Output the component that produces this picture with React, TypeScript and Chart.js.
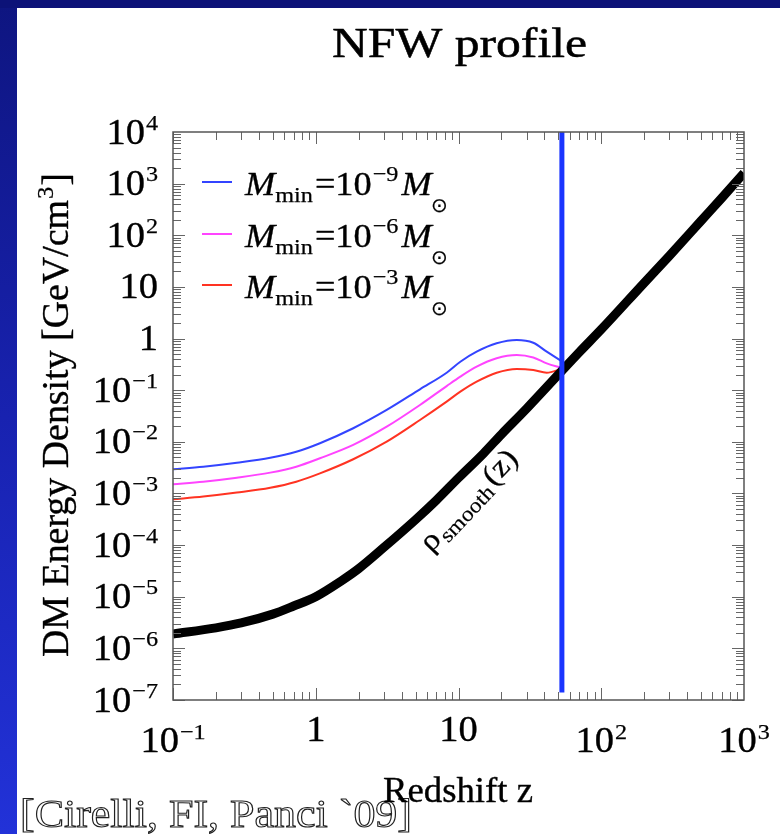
import React, { useEffect, useRef } from 'react';
import { Chart, registerables } from 'chart.js';

Chart.register(...registerables);

const W = 780;
const H = 834;
const SERIF = "'Times New Roman', 'Liberation Serif', Tinos, 'Nimbus Roman', Times, serif";
const SX = 1.1;

// ---- data ----
const redshiftSamples = [0.1, 0.163, 0.28, 0.48, 0.73, 1.07, 1.83, 3.14, 5.37, 8.26, 10.3, 13.4, 18.5, 25.6, 33.4, 41.5, 53];
const densityMmin9 = [2.94e-3, 3.3e-3, 3.94e-3, 4.9e-3, 6.4e-3, 9.4e-3, 1.83e-2, 4.14e-2, 0.104, 0.218, 0.356, 0.557, 0.81, 0.94, 0.83, 0.557, 0.36];
const densityMmin6 = [1.51e-3, 1.69e-3, 2.02e-3, 2.53e-3, 3.3e-3, 4.8e-3, 8.7e-3, 1.96e-2, 5.16e-2, 0.12, 0.183, 0.285, 0.415, 0.48, 0.43, 0.33, 0.27];
const densityMmin3 = [7.7e-4, 8.7e-4, 1.04e-3, 1.29e-3, 1.69e-3, 2.45e-3, 4.6e-3, 1.01e-2, 2.65e-2, 6.0e-2, 9.35e-2, 0.146, 0.218, 0.258, 0.246, 0.218, 0.26];

const smoothRedshift = [0.1, 0.2, 0.3, 0.5, 0.7, 1, 1.5, 2, 3, 5, 7, 10, 15, 20, 30, 50, 70, 100, 200, 300, 500, 700, 1000];
const smoothDensity = [1.9e-6, 2.5e-6, 3.1e-6, 4.6e-6, 6.6e-6, 1.0e-5, 2.0e-5, 3.5e-5, 9.0e-5, 3.1e-4, 7.4e-4, 2.0e-3, 6.0e-3, 1.4e-2, 4.4e-2, 0.2, 0.54, 1.5, 12, 40, 190, 530, 1600];

const markerRedshift = 53;
const markerRange = [1e4, 1.4e-7];

const seriesColors = ['#3344ff', '#ff44ff', '#ff3322'];
const seriesExponents = ['−9', '−6', '−3'];

const xTickValues = [0.1, 1, 10, 100, 1000];
const xTickBases = ['10', '1', '10', '10', '10'];
const xTickExps = ['−1', '', '', '2', '3'];

const yTickValues = [1e4, 1e3, 1e2, 10, 1, 1e-1, 1e-2, 1e-3, 1e-4, 1e-5, 1e-6, 1e-7];
const yTickBases = ['10', '10', '10', '10', '1', '10', '10', '10', '10', '10', '10', '10'];
const yTickExps = ['4', '3', '2', '', '', '−1', '−2', '−3', '−4', '−5', '−6', '−7'];

const titleText = 'NFW profile';
const xTitle = 'Redshift z';
const yTitleMain = 'DM Energy Density [GeV/cm';
const citation = '[Cirelli, FI, Panci `09]';

function pts(xs: number[], ys: number[]) {
  return xs.map((x, i) => ({ x, y: ys[i] }));
}

function font(size: number, italic = false) {
  return `${italic ? 'italic ' : ''}${size}px ${SERIF}`;
}

function measure(ctx: CanvasRenderingContext2D, s: string, size: number, italic = false, sx = SX) {
  ctx.font = font(size, italic);
  return ctx.measureText(s).width * sx;
}

function txt(
  ctx: CanvasRenderingContext2D,
  s: string,
  x: number,
  y: number,
  size: number,
  opts: { italic?: boolean; align?: 'left' | 'right' | 'center'; sx?: number; color?: string; stroke?: boolean; heavy?: number } = {}
) {
  const sx = opts.sx ?? SX;
  const w = measure(ctx, s, size, opts.italic, sx);
  let x0 = x;
  if (opts.align === 'right') x0 = x - w;
  else if (opts.align === 'center') x0 = x - w / 2;
  ctx.save();
  ctx.font = font(size, opts.italic);
  ctx.textBaseline = 'alphabetic';
  ctx.textAlign = 'left';
  ctx.translate(x0, y);
  ctx.scale(sx, 1);
  if (opts.stroke) {
    ctx.strokeStyle = '#222';
    ctx.lineWidth = 1.1;
    ctx.strokeText(s, 0, 0);
  } else {
    const col = opts.color ?? '#000';
    ctx.fillStyle = col;
    ctx.fillText(s, 0, 0);
    const hv = opts.heavy ?? 0.35;
    if (hv > 0) {
      ctx.strokeStyle = col;
      ctx.lineWidth = hv;
      ctx.lineJoin = 'round';
      ctx.strokeText(s, 0, 0);
    }
  }
  ctx.restore();
  return w;
}

const BASE = 35;
const SUP = 22;

const decorPlugin = {
  id: 'decor',
  beforeDraw(chart: any) {
    const ctx: CanvasRenderingContext2D = chart.ctx;
    ctx.save();
    ctx.fillStyle = '#ffffff';
    ctx.fillRect(0, 0, W, H);
    const g = ctx.createLinearGradient(0, 0, 0, H);
    g.addColorStop(0, '#0e1580');
    g.addColorStop(0.5, '#1822b0');
    g.addColorStop(1, '#2232d8');
    ctx.fillStyle = g;
    ctx.fillRect(0, 0, 17, H);
    ctx.fillStyle = '#0c1278';
    ctx.fillRect(0, 0, W, 8);
    ctx.restore();
  },
  afterDatasetsDraw(chart: any) {
    const ctx: CanvasRenderingContext2D = chart.ctx;
    const xs = chart.scales.x;
    const ys = chart.scales.y;
    const a = chart.chartArea;
    ctx.save();

    // ticks
    ctx.strokeStyle = '#666';
    ctx.lineWidth = 1;
    ctx.beginPath();
    for (let k = -1; k <= 2; k++) {
      for (let m = 1; m <= 9; m++) {
        const v = m * Math.pow(10, k);
        const px = Math.round(xs.getPixelForValue(v)) + 0.5;
        const len = m === 1 ? 12 : 8;
        ctx.moveTo(px, a.bottom);
        ctx.lineTo(px, a.bottom - len);
        ctx.moveTo(px, a.top);
        ctx.lineTo(px, a.top + len);
      }
    }
    for (let k = -7; k <= 3; k++) {
      for (let m = 1; m <= 9; m++) {
        const v = m * Math.pow(10, k);
        const py = Math.round(ys.getPixelForValue(v)) + 0.5;
        const len = m === 1 ? 12 : 8;
        ctx.moveTo(a.left, py);
        ctx.lineTo(a.left + len, py);
        ctx.moveTo(a.right, py);
        ctx.lineTo(a.right - len, py);
      }
    }
    ctx.stroke();

    // frame
    ctx.strokeStyle = '#555';
    ctx.lineWidth = 1.5;
    ctx.strokeRect(a.left, a.top, a.right - a.left, a.bottom - a.top);

    // y tick labels
    yTickValues.forEach((v, i) => {
      const py = ys.getPixelForValue(v);
      const base = yTickBases[i];
      const exp = yTickExps[i];
      const wb = measure(ctx, base, BASE);
      const we = exp ? measure(ctx, exp, SUP) + 1 : 0;
      const right = 158;
      const x0 = right - wb - we;
      const bl = py + 11.5;
      txt(ctx, base, x0, bl, BASE);
      if (exp) txt(ctx, exp, x0 + wb + 1, bl - 14, SUP, { heavy: 0.25 });
    });

    // x tick labels
    xTickValues.forEach((v, i) => {
      const px = xs.getPixelForValue(v);
      const base = xTickBases[i];
      const exp = xTickExps[i];
      const wb = measure(ctx, base, BASE);
      const we = exp ? measure(ctx, exp, SUP) + 1 : 0;
      const x0 = px - (wb + we) / 2;
      const bl = exp ? 752 : 741;
      txt(ctx, base, x0, bl, BASE);
      if (exp) txt(ctx, exp, x0 + wb + 1, bl - 13, SUP, { heavy: 0.25 });
    });

    // title
    {
      const nat = measure(ctx, titleText, 42, false, 1);
      txt(ctx, titleText, 332, 57, 42, { sx: 255 / nat, heavy: 0.5 });
    }

    // citation (outlined) then x title on top
    {
      const nat = measure(ctx, citation, 40, false, 1);
      txt(ctx, citation, 20, 827, 40, { sx: 392 / nat, stroke: true });
    }
    {
      const nat = measure(ctx, xTitle, 35, false, 1);
      txt(ctx, xTitle, 383, 802, 35, { sx: 150 / nat });
    }

    // y title, rotated
    {
      const n1 = measure(ctx, yTitleMain, 37, false, 1);
      const n2 = measure(ctx, '3', 24, false, 1);
      const n3 = measure(ctx, ']', 37, false, 1);
      const total = 484;
      const sx = total / (n1 + n2 + n3 + 2);
      ctx.save();
      ctx.translate(68, 415);
      ctx.rotate(-Math.PI / 2);
      let x = -total / 2;
      x += txt(ctx, yTitleMain, x, 0, 37, { sx });
      x += txt(ctx, '3', x + 1, -15, 24, { sx, heavy: 0.25 }) + 2;
      txt(ctx, ']', x, 0, 37, { sx });
      ctx.restore();
    }

    // legend
    const rows = [195, 247, 298];
    rows.forEach((yb, i) => {
      ctx.strokeStyle = seriesColors[i];
      ctx.lineWidth = 2;
      ctx.beginPath();
      ctx.moveTo(202, yb - 13);
      ctx.lineTo(232, yb - 13);
      ctx.stroke();
      let x = 245;
      x += txt(ctx, 'M', x, yb, 33, { italic: true });
      x += txt(ctx, 'min', x, yb + 7, 22, { heavy: 0.25 }) + 2;
      x += txt(ctx, '=', x, yb, 33);
      x += txt(ctx, '10', x, yb, 33) + 1;
      x += txt(ctx, seriesExponents[i], x, yb - 14, 22, { heavy: 0.25 }) + 3;
      x += txt(ctx, 'M', x, yb, 33, { italic: true });
      txt(ctx, '⊙', x - 1, yb + 17, 20, { sx: 1, heavy: 0.2 });
    });

    // rho_smooth(z) label along the line
    {
      ctx.save();
      ctx.translate(431, 553);
      ctx.rotate((-46.5 * Math.PI) / 180);
      let x = 0;
      x += txt(ctx, 'ρ', x, 0, 30, { sx: 1.12, heavy: 0.25 }) + 2;
      x += txt(ctx, 'smooth', x, 6, 21, { sx: 1.12, heavy: 0.2 }) + 3;
      txt(ctx, '(z)', x, 0, 30, { sx: 1.12, heavy: 0.25 });
      ctx.restore();
    }

    ctx.restore();
  },
};

export default function App() {
  const ref = useRef<HTMLCanvasElement | null>(null);
  useEffect(() => {
    document.body.style.margin = '0';
    const canvas = ref.current!;
    const chart = new Chart(canvas, {
      type: 'line',
      data: {
        datasets: [
          {
            label: 'marker',
            data: [
              { x: markerRedshift, y: markerRange[0] },
              { x: markerRedshift, y: markerRange[1] },
            ],
            borderColor: '#1a35ff',
            borderWidth: 5,
            pointRadius: 0,
            order: 0,
          },
          {
            label: 'rho smooth',
            data: pts(smoothRedshift, smoothDensity),
            borderColor: '#000000',
            borderWidth: 9,
            pointRadius: 0,
            cubicInterpolationMode: 'monotone',
            order: 1,
          },
          {
            label: 'Mmin 1e-9',
            data: pts(redshiftSamples, densityMmin9),
            borderColor: seriesColors[0],
            borderWidth: 2,
            pointRadius: 0,
            cubicInterpolationMode: 'monotone',
            order: 2,
          },
          {
            label: 'Mmin 1e-6',
            data: pts(redshiftSamples, densityMmin6),
            borderColor: seriesColors[1],
            borderWidth: 2,
            pointRadius: 0,
            cubicInterpolationMode: 'monotone',
            order: 3,
          },
          {
            label: 'Mmin 1e-3',
            data: pts(redshiftSamples, densityMmin3),
            borderColor: seriesColors[2],
            borderWidth: 2,
            pointRadius: 0,
            cubicInterpolationMode: 'monotone',
            order: 4,
          },
        ],
      },
      options: {
        animation: false,
        responsive: false,
        devicePixelRatio: 1,
        layout: { padding: { left: 173, right: 36, top: 132, bottom: 134 } },
        plugins: { legend: { display: false }, title: { display: false }, tooltip: { enabled: false } },
        scales: {
          x: { type: 'logarithmic', min: 0.1, max: 1000, display: false },
          y: { type: 'logarithmic', min: 1e-7, max: 1e4, display: false },
        },
      },
      plugins: [decorPlugin],
    } as any);
    return () => chart.destroy();
  }, []);
  return (
    <div style={{ position: 'fixed', left: 0, top: 0, width: W, height: H }}>
      <canvas ref={ref} width={W} height={H} style={{ display: 'block', width: W, height: H }} />
    </div>
  );
}
